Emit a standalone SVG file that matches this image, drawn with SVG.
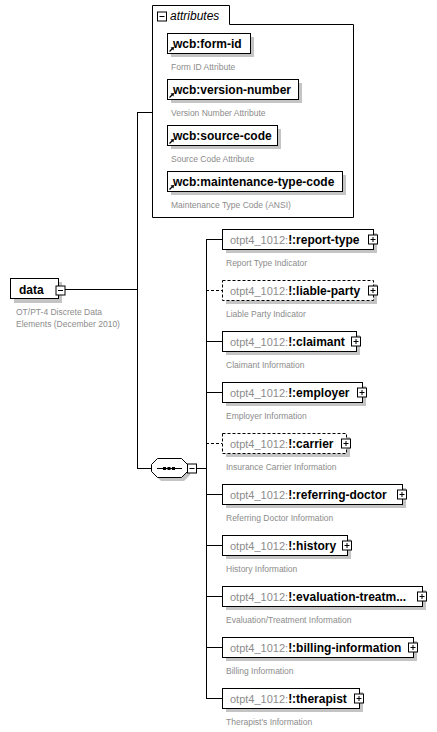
<svg xmlns="http://www.w3.org/2000/svg" width="437" height="732" viewBox="0 0 437 732">
<defs>
<style>
.bx{fill:#fff;stroke:#000;stroke-width:1}
.dbx{fill:#fff;stroke:#000;stroke-width:1;stroke-dasharray:3,2}
.sh{fill:#c4c4c4}
.ln{fill:none;stroke:#000;stroke-width:1}
.dln{fill:none;stroke:#000;stroke-width:1;stroke-dasharray:3,2}
.nm{font-family:"Liberation Sans",Arial,sans-serif;font-size:12px;font-weight:bold;fill:#000}
.pfx{font-family:"Liberation Sans",Arial,sans-serif;font-size:11px;font-weight:normal;fill:#8c8c8c}
.ds{font-family:"Liberation Sans",Arial,sans-serif;font-size:8.5px;fill:#8c8c8c}
.it{font-family:"Liberation Sans",Arial,sans-serif;font-size:12px;font-style:italic;fill:#000}
</style>
<g id="plus">
<rect x="-4.5" y="-4.5" width="9" height="9" fill="#fff" stroke="#000"/>
<path d="M-2.5,0H2.5M0,-2.5V2.5" stroke="#000" fill="none"/>
</g>
<g id="minus">
<rect x="-4.5" y="-4.5" width="9" height="9" fill="#fff" stroke="#000"/>
<path d="M-2.5,0H2.5" stroke="#000" fill="none"/>
</g>
<g id="lnk">
<path d="M169.5,51.5L172.5,48.5" stroke="#000" stroke-width="1.2" fill="none"/>
<path d="M170.5,47.5L174,47L173.5,50.5Z" fill="#000"/>
</g>
</defs>

<g id="connectors">
<path class="ln" d="M65,289.5H137.5M137.5,112.5V468.5M137,112.5H152M137,468.5H152"/>
<path class="ln" d="M197,468.5H206.5M206.5,239.5V698.5"/>
<path class="ln" d="M206,239.5H222"/>
<path class="dln" d="M206,290.5H222"/>
<path class="ln" d="M206,341.5H222"/>
<path class="ln" d="M206,392.5H222"/>
<path class="dln" d="M206,443.5H222"/>
<path class="ln" d="M206,494.5H222"/>
<path class="ln" d="M206,545.5H222"/>
<path class="ln" d="M206,596.5H222"/>
<path class="ln" d="M206,647.5H222"/>
<path class="ln" d="M206,698.5H222"/>
</g>

<g id="data">
<rect class="sh" x="14" y="282" width="48" height="21"/>
<rect class="bx" x="10.5" y="278.5" width="48" height="20"/>
<text class="nm" x="19" y="293.5">data</text>
<use href="#minus" x="60.5" y="290.5"/>
<text class="ds" x="16" y="315">OT/PT-4 Discrete Data</text>
<text class="ds" x="16" y="327">Elements (December 2010)</text>
</g>

<g id="attributes">
<path class="ln" d="M152.5,5.5H229.5V24.5H353.5V217.5H152.5Z" fill="#fff"/>
<use href="#minus" x="162" y="16.5"/>
<text class="it" x="170" y="20">attributes</text>
</g>

<g id="attr-form-id">
<rect class="sh" x="171" y="37" width="83" height="20"/>
<rect class="bx" x="167.5" y="33.5" width="83" height="20"/>
<text class="nm" x="173" y="48">wcb:form-id</text>
<use href="#lnk"/>
<text class="ds" x="171" y="70">Form ID Attribute</text>
</g>

<g id="attr-version-number">
<rect class="sh" x="171" y="83" width="131" height="20"/>
<rect class="bx" x="167.5" y="79.5" width="131" height="20"/>
<text class="nm" x="173" y="94">wcb:version-number</text>
<use href="#lnk" y="46"/>
<text class="ds" x="171" y="116">Version Number Attribute</text>
</g>

<g id="attr-source-code">
<rect class="sh" x="171" y="129" width="110" height="20"/>
<rect class="bx" x="167.5" y="125.5" width="110" height="20"/>
<text class="nm" x="173" y="140">wcb:source-code</text>
<use href="#lnk" y="92"/>
<text class="ds" x="171" y="162">Source Code Attribute</text>
</g>

<g id="attr-maintenance-type-code">
<rect class="sh" x="171" y="175" width="175" height="20"/>
<rect class="bx" x="167.5" y="171.5" width="175" height="20"/>
<text class="nm" x="173" y="186">wcb:maintenance-type-code</text>
<use href="#lnk" y="138"/>
<text class="ds" x="171" y="208">Maintenance Type Code (ANSI)</text>
</g>

<g id="sequence">
<path class="sh" d="M161,463H184L190,469V475L184,481H161L155,475V469Z"/>
<path class="bx" d="M157.5,458.5H181.5L187.5,464.5V471.5L181.5,477.5H157.5L151.5,471.5V464.5Z"/>
<path class="ln" d="M157,468.5H182"/>
<rect x="163" y="467" width="3" height="3" fill="#000"/>
<rect x="167.5" y="467" width="3" height="3" fill="#000"/>
<rect x="172" y="467" width="3" height="3" fill="#000"/>
<use href="#minus" x="192" y="468.5"/>
</g>

<g id="report-type">
<rect class="sh" x="226" y="233" width="151" height="20"/>
<rect class="bx" x="222.5" y="229.5" width="151" height="20"/>
<text x="230" y="244"><tspan class="pfx">otpt4_1012:</tspan><tspan class="nm">!:report-type</tspan></text>
<use href="#plus" x="373" y="239.5"/>
<text class="ds" x="226" y="266">Report Type Indicator</text>
</g>

<g id="liable-party">
<rect class="sh" x="226" y="284" width="151" height="20"/>
<rect class="dbx" x="222.5" y="280.5" width="151" height="20"/>
<text x="230" y="295"><tspan class="pfx">otpt4_1012:</tspan><tspan class="nm">!:liable-party</tspan></text>
<use href="#plus" x="373" y="290.5"/>
<text class="ds" x="226" y="317">Liable Party Indicator</text>
</g>

<g id="claimant">
<rect class="sh" x="226" y="335" width="134" height="20"/>
<rect class="bx" x="222.5" y="331.5" width="134" height="20"/>
<text x="230" y="346"><tspan class="pfx">otpt4_1012:</tspan><tspan class="nm">!:claimant</tspan></text>
<use href="#plus" x="356" y="341.5"/>
<text class="ds" x="226" y="368">Claimant Information</text>
</g>

<g id="employer">
<rect class="sh" x="226" y="386" width="140" height="20"/>
<rect class="bx" x="222.5" y="382.5" width="140" height="20"/>
<text x="230" y="397"><tspan class="pfx">otpt4_1012:</tspan><tspan class="nm">!:employer</tspan></text>
<use href="#plus" x="362" y="392.5"/>
<text class="ds" x="226" y="419">Employer Information</text>
</g>

<g id="carrier">
<rect class="sh" x="226" y="437" width="124" height="20"/>
<rect class="dbx" x="222.5" y="433.5" width="124" height="20"/>
<text x="230" y="448"><tspan class="pfx">otpt4_1012:</tspan><tspan class="nm">!:carrier</tspan></text>
<use href="#plus" x="346" y="443.5"/>
<text class="ds" x="226" y="470">Insurance Carrier Information</text>
</g>

<g id="referring-doctor">
<rect class="sh" x="226" y="488" width="180" height="20"/>
<rect class="bx" x="222.5" y="484.5" width="180" height="20"/>
<text x="230" y="499"><tspan class="pfx">otpt4_1012:</tspan><tspan class="nm">!:referring-doctor</tspan></text>
<use href="#plus" x="402" y="494.5"/>
<text class="ds" x="226" y="521">Referring Doctor Information</text>
</g>

<g id="history">
<rect class="sh" x="226" y="539" width="125" height="20"/>
<rect class="bx" x="222.5" y="535.5" width="125" height="20"/>
<text x="230" y="550"><tspan class="pfx">otpt4_1012:</tspan><tspan class="nm">!:history</tspan></text>
<use href="#plus" x="347" y="545.5"/>
<text class="ds" x="226" y="572">History Information</text>
</g>

<g id="evaluation-treatment">
<rect class="sh" x="226" y="590" width="200" height="20"/>
<rect class="bx" x="222.5" y="586.5" width="200" height="20"/>
<text x="230" y="601"><tspan class="pfx">otpt4_1012:</tspan><tspan class="nm">!:evaluation-treatm...</tspan></text>
<use href="#plus" x="422" y="596.5"/>
<text class="ds" x="226" y="623">Evaluation/Treatment Information</text>
</g>

<g id="billing-information">
<rect class="sh" x="226" y="641" width="191" height="20"/>
<rect class="bx" x="222.5" y="637.5" width="191" height="20"/>
<text x="230" y="652"><tspan class="pfx">otpt4_1012:</tspan><tspan class="nm">!:billing-information</tspan></text>
<use href="#plus" x="413" y="647.5"/>
<text class="ds" x="226" y="674">Billing Information</text>
</g>

<g id="therapist">
<rect class="sh" x="226" y="692" width="137" height="20"/>
<rect class="bx" x="222.5" y="688.5" width="137" height="20"/>
<text x="230" y="703"><tspan class="pfx">otpt4_1012:</tspan><tspan class="nm">!:therapist</tspan></text>
<use href="#plus" x="359" y="698.5"/>
<text class="ds" x="226" y="725">Therapist's Information</text>
</g>
</svg>
